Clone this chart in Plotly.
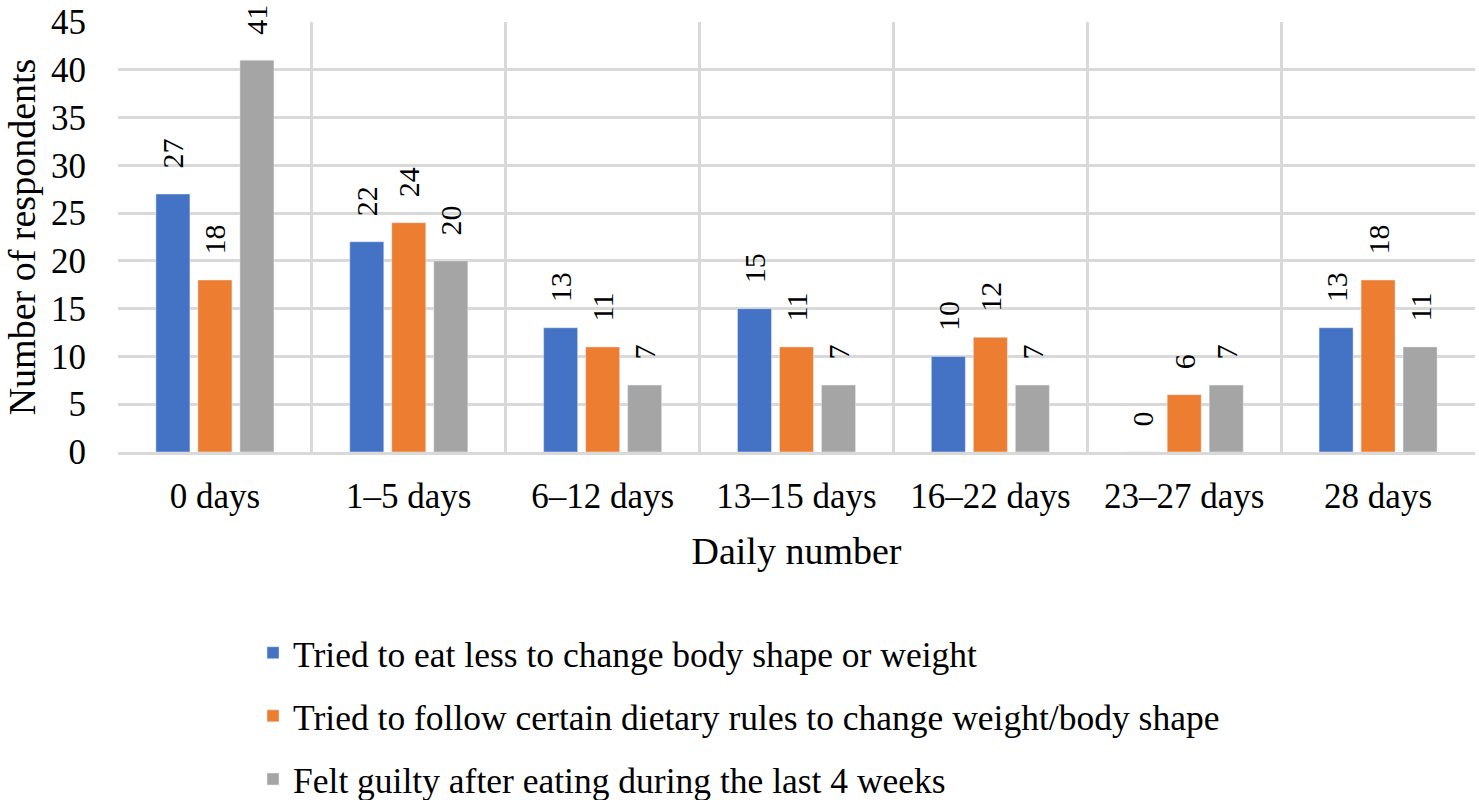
import plotly.graph_objects as go

categories = ["0 days", "1–5 days", "6–12 days", "13–15 days", "16–22 days", "23–27 days", "28 days"]
eat_less = [27, 22, 13, 15, 10, 0, 13]
dietary_rules = [18, 24, 11, 11, 12, 6, 18]
felt_guilty = [41, 20, 7, 7, 7, 7, 11]

series = [
    ("Tried to eat less to change body shape or weight", eat_less, "#4472C4"),
    ("Tried to follow certain dietary rules to change weight/body shape", dietary_rules, "#ED7D31"),
    ("Felt guilty after eating during the last 4 weeks", felt_guilty, "#A5A5A5"),
]

FONT = "Liberation Serif"

fig = go.Figure()
for i, (name, vals, color) in enumerate(series):
    fig.add_trace(go.Bar(
        x=categories, y=vals, name=name, marker_color=color,
        text=["\u00a0\u00a0\u00a0" + str(v) for v in vals], textposition="outside", textangle=-90,
        textfont=dict(size=30, color="black", family=FONT),
        constraintext="none",
        cliponaxis=False, legendgroup=f"g{i}",
    ))

fig.update_layout(
    width=1479, height=800,
    paper_bgcolor="white", plot_bgcolor="white",
    font=dict(family=FONT, color="black"),
    margin=dict(l=118, r=4, t=22, b=348, autoexpand=False),
    barmode="group", bargap=0.35, bargroupgap=0.19,
    showlegend=True,
    legend=dict(
        x=0.0995, y=-0.398, xanchor="left", yanchor="top",
        font=dict(size=35.5, family=FONT), tracegroupgap=14,
        bgcolor="rgba(0,0,0,0)",
    ),
    uniformtext=dict(mode=False),
)
fig.update_xaxes(
    type="category", tickson="boundaries", showgrid=True,
    gridcolor="#D9D9D9", gridwidth=3, ticks="", showline=True,
    linecolor="#D9D9D9", linewidth=3, automargin=False,
    tickfont=dict(size=35, family=FONT), ticklabelstandoff=11,
    ticklabeloverflow="allow",
    title=dict(text="Daily number", font=dict(size=38, family=FONT), standoff=23),
)
fig.update_yaxes(
    range=[0, 45], dtick=5, showgrid=True, gridcolor="#D9D9D9", gridwidth=3,
    zeroline=False, showline=False, ticks="", automargin=False,
    tickfont=dict(size=35, family=FONT), ticklabelstandoff=31,
    ticklabeloverflow="allow",
    title=dict(text="Number of respondents", font=dict(size=38, family=FONT), standoff=3),
)

fig.write_html("out.html", config={"displayModeBar": False},
               post_script="document.body.style.margin='0';")
